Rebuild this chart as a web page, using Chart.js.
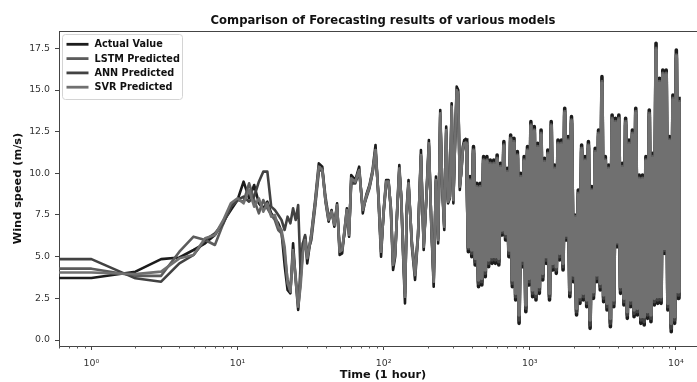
<!DOCTYPE html>
<html>
<head>
<meta charset="utf-8">
<title>Comparison of Forecasting results of various models</title>
<script src="https://cdn.jsdelivr.net/npm/chart.js@4.4.1/dist/chart.umd.min.js"></script>
<style>
  html, body { margin: 0; padding: 0; background: #fff; overflow: hidden; }
  #wrap { width: 697px; height: 382px; overflow: hidden; }
</style>
</head>
<body>
<div id="wrap"><canvas id="forecastChart" width="712" height="382"></canvas></div>
<script>
// Forecast comparison

const hours = [
  0,1,2,3,4,5,6,7,8,9,10,11,12,13,14,15,16,17,18,19,20,21,22,23,24,25,26,27,28,29,30,
  32,34,36,38,40,42,44,46,48,50,52,54,56,58,60,
  64,68,72,76,80,84,88,92,96,100,104,108,112,116,120,124,128,132,136,140,144,148,
  156,164,172,180,188,196,204,212,220,228,236,244,252,260,268,276,284,292,300,308,316,324,332,340,348,356,
  370,380,390,401,412,423,434,446,458,470,483,496,509,523,537,552,567,582,598,614,
  630,647,665,683,701,720,740,760,780,801,823,845,868,891,915,940,965,991,1018,1046,
  1074,1103,1133,1163,1195,1227,1260,1294,1329,1365,1402,1440,1479,1519,1560,1602,1645,1690,1735,1782,
  1830,1880,1930,1983,2036,2091,2148,2206,2265,2327,2390,2454,2520,2588,2658,2730,2804,2880,2957,3037,
  3119,3203,3290,3379,3470,3563,3660,3759,3860,3964,4071,4181,4294,4410,4529,4651,4777,4906,5038,5174,
  5314,5457,5605,5756,5911,6071,6235,6403,6576,6753,6935,7123,7315,7512,7715,7923,8137,8357,8583,8815,
  9053,9297,9548,9806,10071,10343,10500
];

const actualValue = [
  3.72,3.72,4.1,4.85,4.95,5.4,5.8,6.3,7.1,7.8,8.4,9.5,8.5,9.3,8.2,7.9,8.3,7.6,7.3,7.0,6.5,4.5,3.0,2.8,5.8,3.6,1.8,3.6,5.4,6.2,4.6,
  6.4,8.4,10.6,10.4,8.3,7.1,7.8,6.8,8.2,5.1,5.2,6.6,7.9,6.2,9.9,
  9.6,10.4,7.6,8.7,9.3,10.2,11.7,8.6,5.0,7.8,9.6,9.6,7.8,4.2,5.0,8.0,10.5,8.5,5.0,2.2,8.0,9.6,
  5.6,3.6,6.2,11.4,5.4,8.6,12.0,6.8,3.2,9.8,5.8,13.8,9.0,6.6,12.8,8.2,8.5,14.2,8.2,12.0,15.2,15.0,9.0,10.2,11.6,12.0,
  12.1,5.3,9.8,5.0,11.6,4.5,9.4,3.2,9.4,3.3,
  11.0,3.8,11.0,4.4,10.8,4.6,10.8,4.6,11.1,4.5,
  10.6,6.3,11.9,6.0,10.3,5.0,12.3,3.2,12.1,2.4,
  11.3,1.0,10.0,4.4,11.0,1.7,11.6,3.3,13.1,2.6,
  12.8,2.4,11.8,2.8,12.6,3.6,10.9,4.6,11.4,2.4,
  13.1,4.2,10.5,4.0,12.0,4.8,12.0,4.2,13.9,6.0,
  12.2,2.6,13.4,3.5,7.5,1.5,9.0,2.2,11.7,2.4,
  11.0,2.0,11.9,0.7,9.2,2.5,11.5,3.5,12.6,3.0,
  15.8,2.3,11.0,1.8,10.5,0.8,13.5,2.0,13.3,5.6,
  13.5,2.8,10.6,2.1,13.3,1.3,12.0,2.0,12.6,1.4,
  13.9,1.5,9.9,1.0,9.9,0.9,11.0,1.3,13.8,1.1,
  11.2,2.1,17.8,2.2,15.7,2.2,16.2,5.2,16.2,1.8,
  12.2,0.5,14.7,1.0,17.4,2.5,14.6
];

const lstmPredicted = [
  4.28,4.28,3.85,3.85,5.3,6.2,6.0,5.7,7.0,8.0,8.4,8.3,9.4,8.4,7.6,8.4,7.9,7.5,7.2,6.6,6.4,5.2,3.6,3.0,5.2,3.8,2.2,4.4,5.8,6.0,5.0,
  6.2,8.2,10.3,10.2,8.4,7.3,7.7,7.0,8.0,5.4,5.4,6.5,7.7,6.4,9.6,
  9.5,10.2,7.8,8.6,9.2,10.1,11.4,8.7,5.3,7.7,9.4,9.5,7.9,4.5,5.2,7.9,10.2,8.5,5.2,2.6,7.8,9.4,
  5.8,3.9,6.3,11.1,5.6,8.5,11.7,6.9,3.5,9.6,6.0,13.5,9.1,6.8,12.5,8.3,8.6,13.9,8.4,11.8,14.9,14.8,9.2,10.1,11.4,11.8,
  11.9,5.6,9.6,5.3,11.4,4.8,9.2,3.5,9.2,3.6,
  10.8,4.1,10.8,4.7,10.6,4.9,10.6,4.9,10.9,4.8,
  10.4,6.5,11.7,6.3,10.1,5.3,12.1,3.5,11.9,2.7,
  11.1,1.3,9.8,4.7,10.8,2.0,11.4,3.6,12.9,2.9,
  12.6,2.7,11.6,3.1,12.4,3.9,10.7,4.9,11.2,2.7,
  12.9,4.5,10.3,4.3,11.8,5.1,11.8,4.5,13.7,6.2,
  12.0,2.9,13.2,3.8,7.4,1.8,8.8,2.5,11.5,2.7,
  10.8,2.3,11.7,1.0,9.0,2.8,11.3,3.8,12.4,3.3,
  15.5,2.6,10.8,2.1,10.3,1.1,13.3,2.3,13.1,5.8,
  13.3,3.1,10.4,2.4,13.1,1.6,11.8,2.3,12.4,1.7,
  13.7,1.8,9.7,1.3,9.7,1.2,10.8,1.6,13.6,1.4,
  11.0,2.4,17.5,2.5,15.5,2.5,16.0,5.4,16.0,2.1,
  12.0,0.8,14.5,1.3,17.1,2.8,14.4
];

const annPredicted = [
  4.85,4.85,3.7,3.5,4.6,5.1,6.0,6.4,7.0,8.0,8.4,8.6,8.3,8.6,9.5,10.1,10.1,8.0,7.8,7.5,7.2,6.6,7.4,7.0,7.9,7.2,8.1,4.0,5.8,6.3,5.2,
  6.0,8.0,10.1,10.3,8.6,7.4,7.6,7.1,7.9,5.6,5.5,6.4,7.6,6.6,9.4,
  9.4,10.1,7.9,8.5,9.1,10.0,11.3,8.8,5.5,7.6,9.3,9.4,8.0,4.7,5.3,7.8,10.1,8.6,5.4,2.8,7.7,9.3,
  5.9,4.1,6.4,11.0,5.7,8.4,11.6,7.0,3.6,9.5,6.1,13.4,9.2,6.9,12.4,8.4,8.7,13.8,8.5,11.7,14.8,14.7,9.3,10.0,11.3,11.7,
  11.7,5.5,9.4,5.2,11.2,4.7,9.0,3.4,9.0,3.5,
  10.6,4.0,10.6,4.6,10.4,4.8,10.4,4.8,10.7,4.7,
  10.2,6.5,11.5,6.2,9.9,5.2,11.9,3.4,11.7,2.6,
  10.9,1.2,9.6,4.6,10.6,1.9,11.2,3.5,12.7,2.8,
  12.4,2.6,11.4,3.0,12.2,3.8,10.5,4.8,11.0,2.6,
  12.7,4.4,10.1,4.2,11.6,5.0,11.6,4.4,13.5,6.2,
  11.8,2.8,13.0,3.7,7.2,1.7,8.6,2.4,11.3,2.6,
  10.6,2.2,11.5,0.9,8.8,2.7,11.1,3.7,12.2,3.2,
  15.3,2.5,10.6,2.0,10.1,1.0,13.1,2.2,12.9,5.8,
  13.1,3.0,10.2,2.3,12.9,1.5,11.6,2.2,12.2,1.6,
  13.5,1.7,9.5,1.2,9.5,1.1,10.6,1.5,13.4,1.3,
  10.8,2.3,17.3,2.4,15.3,2.4,15.8,5.4,15.8,2.0,
  11.8,0.7,14.3,1.2,16.9,2.7,14.2
];

const svrPredicted = [
  4.05,4.05,3.95,4.1,4.9,5.1,6.1,6.3,7.2,8.2,8.5,8.2,9.0,8.0,8.5,7.7,8.2,7.4,7.5,6.8,6.6,5.6,3.4,2.9,5.4,3.6,2.0,3.2,5.2,6.0,4.9,
  6.3,8.2,10.4,10.2,8.4,7.2,7.7,6.9,8.1,5.3,5.4,6.6,7.8,6.3,9.7,
  9.5,10.2,7.8,8.6,9.2,10.1,11.4,8.7,5.3,7.7,9.5,9.5,7.9,4.5,5.2,7.9,10.3,8.5,5.2,2.6,7.9,9.4,
  5.8,3.9,6.3,11.1,5.6,8.5,11.8,6.9,3.5,9.6,6.0,13.6,9.1,6.8,12.6,8.3,8.6,14.0,8.4,11.8,15.0,14.8,9.2,10.1,11.4,11.8,
  11.8,5.6,9.5,5.4,11.3,4.9,9.1,3.6,9.1,3.7,
  10.7,4.2,10.7,4.8,10.5,5.0,10.5,5.0,10.8,4.9,
  10.3,6.6,11.6,6.4,10.0,5.4,12.0,3.6,11.8,2.8,
  11.0,1.5,9.7,4.8,10.7,2.1,11.3,3.7,12.8,3.0,
  12.5,2.8,11.5,3.2,12.3,4.0,10.6,5.0,11.1,2.8,
  12.8,4.6,10.2,4.4,11.7,5.2,11.7,4.6,13.6,6.3,
  11.9,3.0,13.1,3.9,7.3,1.9,8.7,2.6,11.4,2.8,
  10.7,2.4,11.6,1.2,8.9,2.9,11.2,3.9,12.3,3.4,
  15.4,2.7,10.7,2.2,10.2,1.3,13.2,2.4,13.0,5.9,
  13.2,3.2,10.3,2.5,13.0,1.7,11.7,2.4,12.3,1.8,
  13.6,1.9,9.6,1.4,9.6,1.4,10.7,1.7,13.5,1.5,
  10.9,2.5,17.4,2.6,15.4,2.6,15.9,5.5,15.9,2.2,
  11.9,1.0,14.4,1.4,17.0,2.9,14.3
];

const speedTicks = [0, 2.5, 5, 7.5, 10, 12.5, 15, 17.5];
const hourTicks = [1, 10, 100, 1000, 10000];
const hourTickLabels = ['10\u2070', '10\u00b9', '10\u00b2', '10\u00b3', '10\u2074'];

const FONT = "'DejaVu Sans', sans-serif";
Chart.defaults.font.family = FONT;
Chart.defaults.color = '#333';

function toPoints(values) {
    return hours.map((h, i) => ({ x: h, y: values[i] }));
}

// matplotlib-ish frame: top spine + minor log ticks
const axesExtras = {
    id: 'axesExtras',
    afterDraw(chart) {
        const { ctx, chartArea: a } = chart;
        const xs = chart.scales.x;
        ctx.save();
        ctx.strokeStyle = '#444';
        ctx.lineWidth = 1;
        ctx.beginPath();
        ctx.moveTo(a.left, a.top + 0.5);
        ctx.lineTo(a.right, a.top + 0.5);
        ctx.moveTo(a.right - 0.5, a.top);
        ctx.lineTo(a.right - 0.5, a.bottom);
        ctx.stroke();

        ctx.strokeStyle = '#555';
        ctx.beginPath();
        for (let e = -1; e <= 4; e++) {
            for (let m = 2; m <= 9; m++) {
                const v = m * Math.pow(10, e);
                if (v < xs.min || v > xs.max) continue;
                const px = Math.round(xs.getPixelForValue(v)) + 0.5;
                ctx.moveTo(px, a.bottom);
                ctx.lineTo(px, a.bottom + 2.5);
            }
        }
        ctx.stroke();
        ctx.restore();
    }
};

// title centred over the axes, and the boxed legend in the upper-left corner
const titleAndLegend = {
    id: 'titleAndLegend',
    afterDraw(chart) {
        const { ctx, chartArea: a } = chart;
        ctx.save();
        ctx.fillStyle = '#111';
        ctx.font = "bold 11.6px " + FONT;
        ctx.textAlign = 'center';
        ctx.textBaseline = 'middle';
        ctx.fillText('Comparison of Forecasting results of various models', (a.left + a.right) / 2, 20.5);

        const bx = a.left + 3.5, by = a.top + 3.5, bw = 120, bh = 65, r = 3;
        ctx.beginPath();
        ctx.moveTo(bx + r, by);
        ctx.arcTo(bx + bw, by, bx + bw, by + bh, r);
        ctx.arcTo(bx + bw, by + bh, bx, by + bh, r);
        ctx.arcTo(bx, by + bh, bx, by, r);
        ctx.arcTo(bx, by, bx + bw, by, r);
        ctx.closePath();
        ctx.fillStyle = 'rgba(255,255,255,0.85)';
        ctx.fill();
        ctx.strokeStyle = '#d4d4d4';
        ctx.lineWidth = 1;
        ctx.stroke();

        ctx.font = "bold 9.7px " + FONT;
        ctx.textAlign = 'left';
        chart.data.datasets.forEach((ds, i) => {
            const y = by + 9.8 + i * 14.3;
            ctx.strokeStyle = ds.borderColor;
            ctx.lineWidth = 2.8;
            ctx.beginPath();
            ctx.moveTo(bx + 4, y);
            ctx.lineTo(bx + 26, y);
            ctx.stroke();
            ctx.fillStyle = '#111';
            ctx.fillText(ds.label, bx + 32, y + 0.5);
        });
        ctx.restore();
    }
};

// past ~370 h the hourly series is so dense that matplotlib paints a solid band;
// a slightly heavier stroke there closes the gaps between our sampled zig-zags
const lineStyle = {
    pointRadius: 0, borderWidth: 2.6, tension: 0, borderJoinStyle: 'round', fill: false,
    segment: { borderWidth: ctx => (ctx.p0.parsed.x >= 370 ? 3.6 : undefined) }
};

new Chart(document.getElementById('forecastChart'), {
    type: 'line',
    data: {
        datasets: [
            { label: 'Actual Value', data: toPoints(actualValue), borderColor: '#1c1c1c', order: 3, ...lineStyle },
            { label: 'LSTM Predicted', data: toPoints(lstmPredicted), borderColor: '#5c5c5c', order: 2, ...lineStyle },
            { label: 'ANN Predicted', data: toPoints(annPredicted), borderColor: '#424242', order: 1, ...lineStyle },
            { label: 'SVR Predicted', data: toPoints(svrPredicted), borderColor: '#707070', order: 0, ...lineStyle }
        ]
    },
    options: {
        responsive: false,
        animation: false,
        devicePixelRatio: 1,
        layout: { padding: { top: 31, right: 5, left: 0, bottom: 0 } },
        plugins: { legend: { display: false }, title: { display: false }, tooltip: { enabled: false } },
        scales: {
            x: {
                type: 'logarithmic',
                min: 0.638,
                max: 16330,
                afterBuildTicks: s => { s.ticks = hourTicks.map(v => ({ value: v })); },
                afterFit: s => { s.height = 36; },
                grid: { drawOnChartArea: false, drawTicks: true, tickLength: 4, tickColor: '#444' },
                border: { display: true, color: '#444', width: 1 },
                ticks: {
                    autoSkip: false, maxRotation: 0, padding: 7.5,
                    color: '#333', font: { size: 9.4 },
                    callback: (v, i) => hourTickLabels[i]
                },
                title: {
                    display: true, text: 'Time (1 hour)', color: '#111',
                    font: { size: 11.3, weight: 'bold', lineHeight: 1 },
                    padding: { top: 0, bottom: 1 }
                }
            },
            y: {
                min: -0.36,
                max: 18.54,
                afterBuildTicks: s => { s.ticks = speedTicks.map(v => ({ value: v })); },
                afterFit: s => { s.width = 59; },
                grid: { drawOnChartArea: false, drawTicks: true, tickLength: 4, tickColor: '#444' },
                border: { display: true, color: '#444', width: 1 },
                ticks: {
                    padding: 5, color: '#333', font: { size: 9.4 },
                    callback: v => Number(v).toFixed(1)
                },
                title: {
                    display: true, text: 'Wind speed (m/s)', color: '#111',
                    font: { size: 11.3, weight: 'bold', lineHeight: 1 },
                    padding: { top: 12.5, bottom: 0 }
                }
            }
        }
    },
    plugins: [axesExtras, titleAndLegend]
});
</script>
</body>
</html>
